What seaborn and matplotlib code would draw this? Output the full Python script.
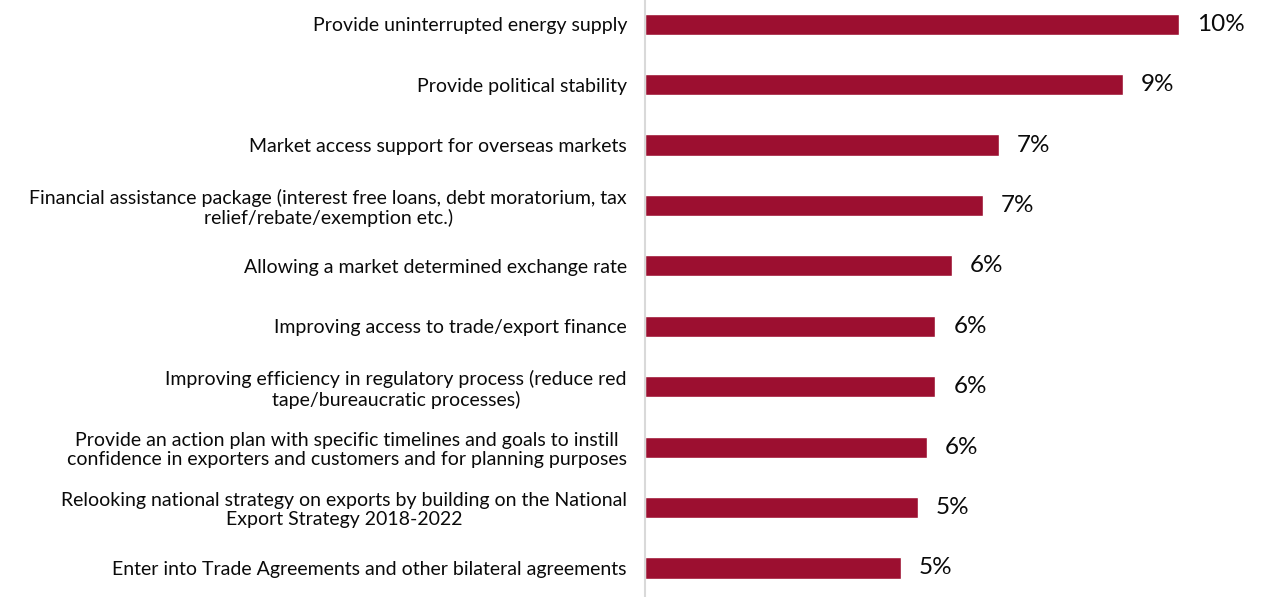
import matplotlib
matplotlib.use("Agg")
import matplotlib.pyplot as plt
import seaborn as sns
import pandas as pd

measures = [
    "Provide uninterrupted energy supply",
    "Provide political stability",
    "Market access support for overseas markets",
    "Financial assistance package (interest free loans, debt moratorium, tax\nrelief/rebate/exemption etc.)",
    "Allowing a market determined exchange rate",
    "Improving access to trade/export finance",
    "Improving efficiency in regulatory process (reduce red\ntape/bureaucratic processes)",
    "Provide an action plan with specific timelines and goals to instill\nconfidence in exporters and customers and for planning purposes",
    "Relooking national strategy on exports by building on the National\nExport Strategy 2018-2022",
    "Enter into Trade Agreements and other bilateral agreements",
]
shares = [10.45, 9.35, 6.93, 6.61, 6.01, 5.68, 5.68, 5.52, 5.34, 5.01]

df = pd.DataFrame({"measure": measures, "share": shares})

sns.set_theme(style="white")
plt.rcParams["font.family"] = ["Lato", "DejaVu Sans"]

fig = plt.figure(figsize=(12.71, 5.97), dpi=100)
ax = fig.add_axes([0.5075, 0.0, 0.4925, 1.0])

sns.barplot(data=df, x="share", y="measure", orient="h", color="#9C0F30",
            width=0.35, saturation=1, ax=ax)

ax.set_xlim(0, 12.25)
ax.set_ylim(9.48, -0.40)
ax.set_xlabel("")
ax.set_ylabel("")
ax.set_xticks([])

for spine in ["top", "right", "bottom"]:
    ax.spines[spine].set_visible(False)
ax.spines["left"].set_color("#d9d9d9")
ax.spines["left"].set_linewidth(1.5)

ax.tick_params(axis="y", length=0, pad=13)
for lbl in ax.get_yticklabels():
    lbl.set_fontsize(14)
    lbl.set_color("#0a0a0a")
    lbl.set_multialignment("center")
    lbl.set_linespacing(1.15)

for i, v in enumerate(shares):
    ax.annotate(f"{v:.0f}%", xy=(v, i), xytext=(13, 0), textcoords="offset points",
                ha="left", va="center", fontsize=17.5, color="#0a0a0a")

fig.savefig("out.png", dpi=100)
